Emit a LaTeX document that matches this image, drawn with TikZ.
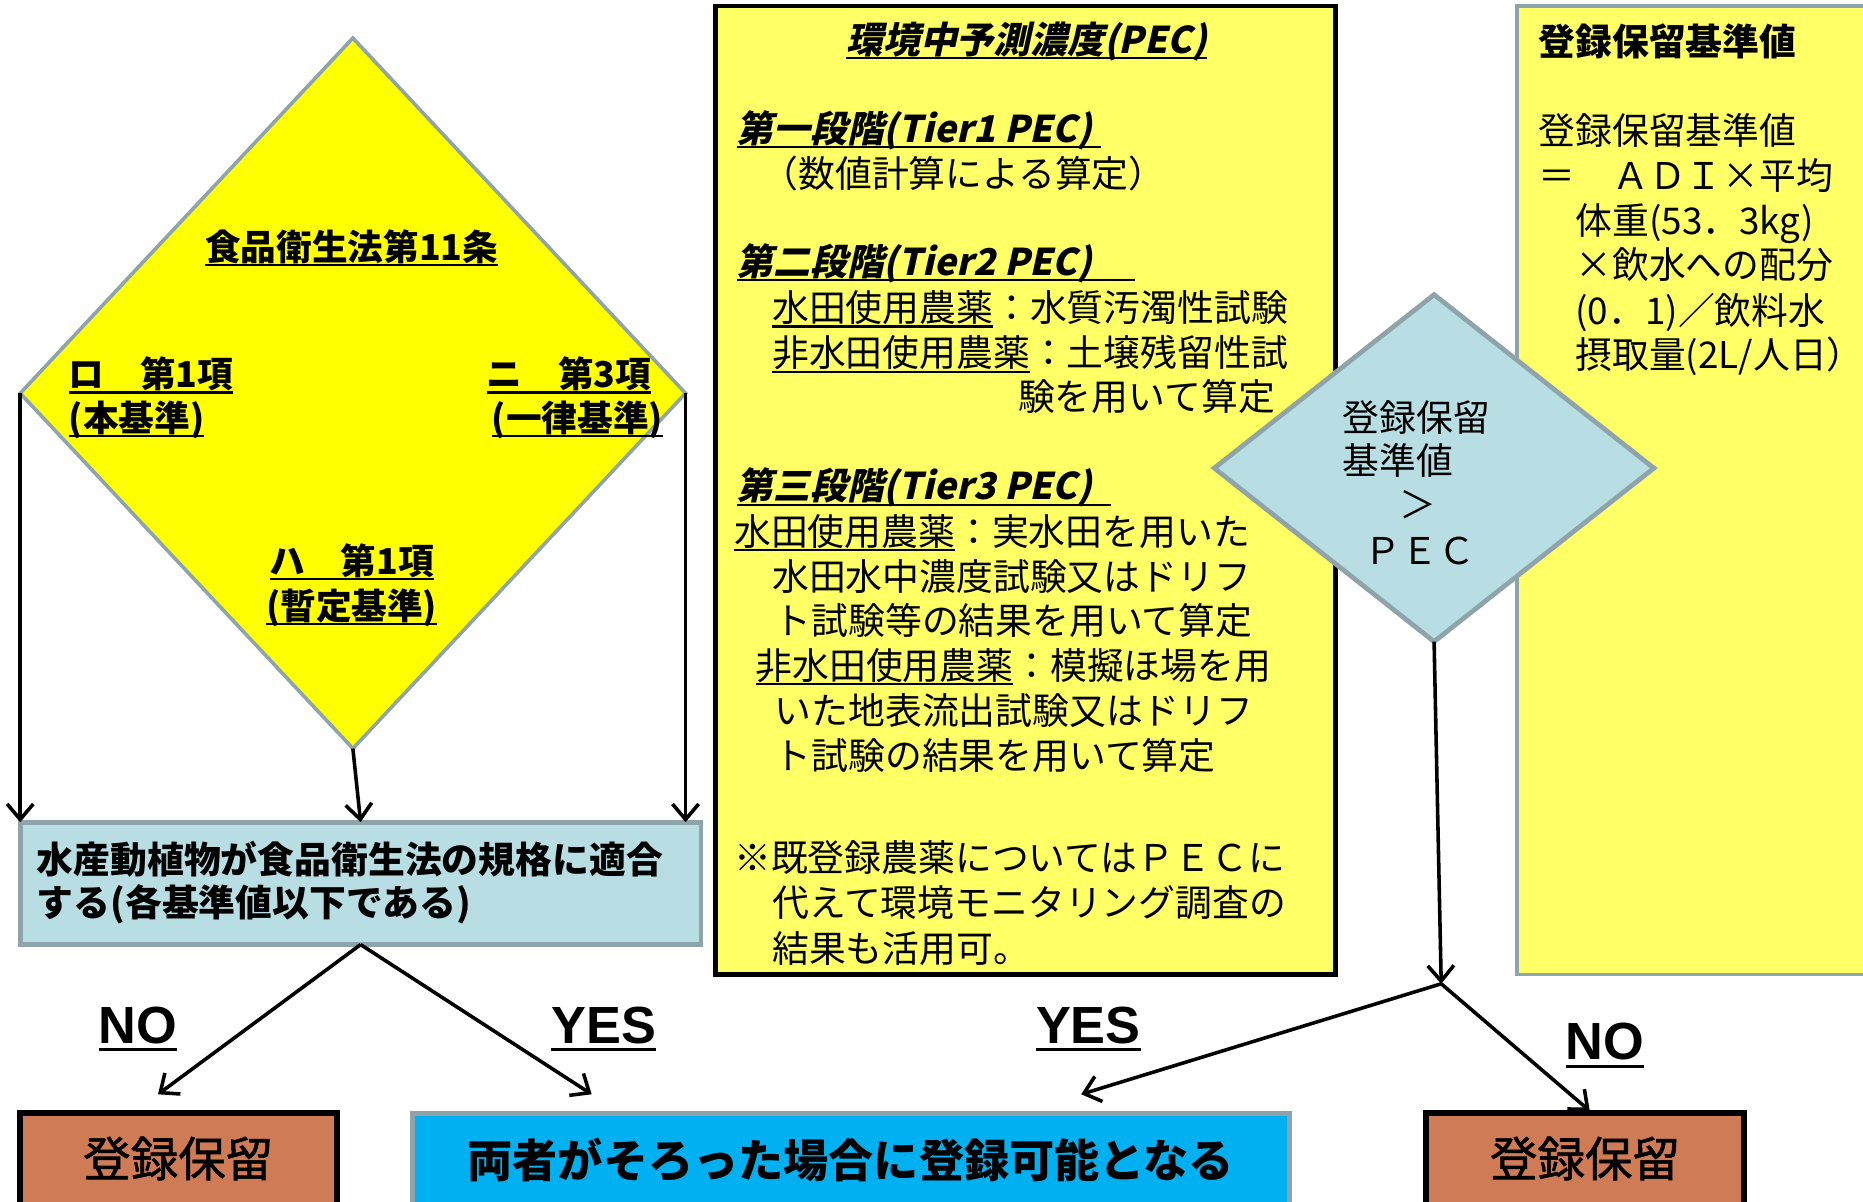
\documentclass[tikz,border=0pt]{standalone}
\usepackage{fontspec}
\setmainfont{Noto Sans CJK JP}
\newfontfamily\jp{Noto Sans CJK JP}
\newfontfamily\jpm{Noto Sans CJK JP}[FakeBold=1.2]
\newfontfamily\jpsl{Noto Sans CJK JP}[FakeSlant=0.22]
\newfontfamily\lat{Liberation Sans}
\usetikzlibrary{shapes.geometric,arrows.meta}
\definecolor{ydia}{HTML}{FFFF00}
\definecolor{ybox}{HTML}{FFFF66}
\definecolor{lblue}{HTML}{B8DEE3}
\definecolor{gborder}{HTML}{8EA4AA}
\definecolor{brick}{HTML}{CF7B56}
\definecolor{cyanb}{HTML}{00B0F0}
\newcommand\myul[1]{\setbox0=\hbox{#1}\rlap{\rule[-0.16em]{\wd0}{0.06em}}\box0}
\begin{document}
\begin{tikzpicture}[x=0.5pt,y=-0.5pt,
  every node/.style={inner sep=0pt, outer sep=0pt},
  jb15/.style={font=\jp\bfseries\fontsize{15pt}{15pt}\selectfont, text height=13.2pt, text depth=1.8pt},
  jb/.style={font=\jp\bfseries\fontsize{15.5pt}{15.5pt}\selectfont, text height=13.64pt, text depth=1.86pt},
  jr/.style={font=\jp\fontsize{15.5pt}{15.5pt}\selectfont, text height=13.64pt, text depth=1.86pt},
  js/.style={font=\jpsl\bfseries\fontsize{15.5pt}{15.5pt}\selectfont, text height=13.64pt, text depth=1.86pt},
  bigr/.style={font=\jpm\fontsize{20pt}{20pt}\selectfont, text height=17.6pt, text depth=2.4pt},
  bigb/.style={font=\jp\bfseries\fontsize{19pt}{19pt}\selectfont, text height=16.72pt, text depth=2.28pt},
  yn/.style={font=\lat\bfseries\fontsize{22pt}{22pt}\selectfont},
  arr/.style={line width=1.5pt, -{Straight Barb[length=6.5pt,width=11pt]}},
  brickbox/.style={draw=black, line width=2.5pt, fill=brick, minimum height=46.5pt},
]
\useasboundingbox (0,0) rectangle (1568,1011);
\fill[white] (0,0) rectangle (1568,1011);

% big yellow diamond
\node[draw=gborder, line width=1.5pt, fill=ydia, diamond, minimum width=280pt, minimum height=299pt] (D1) at (297,331) {};
\node[jb15] (d1) at (296,208) {\myul{食品衛生法第11条}};
\node[jb15, anchor=west] (d2) at (58,315) {\myul{ロ　第1項}};
\node[jb15, anchor=west] (d3) at (58,352) {\myul{(本基準)}};
\node[jb15, anchor=east] (d4) at (548,315) {\myul{ニ　第3項}};
\node[jb15, anchor=east] (d5) at (558,352) {\myul{(一律基準)}};
\node[jb15] (d6) at (296,472) {\myul{ハ　第1項}};
\node[jb15] (d7) at (296,510) {\myul{(暫定基準)}};

% light blue result box
\node[draw=gborder, line width=2pt, fill=lblue, minimum width=286.5pt, minimum height=51.5pt] (B1) at (303.5,743.5) {};
\node[jb, anchor=west] (b1) at (31,723) {水産動植物が食品衛生法の規格に適合};
\node[jb, anchor=west] (b2) at (31,760) {する(各基準値以下である)};

% arrows from the diamond
\draw[arr] (D1.west) -- (D1.west |- B1.north);
\draw[arr] (D1.south) -- (B1.north);
\draw[arr] (D1.east) -- (D1.east |- B1.north);

% PEC box
\node[draw=black, line width=2pt, fill=ybox, minimum width=261pt, minimum height=407.5pt] (P) at (863,412.5) {};
\node[js] (p0) at (864,33) {\myul{環境中予測濃度(PEC)}};
\node[js, anchor=west] (p1) at (620,108) {\myul{第一段階(Tier1 PEC)\hspace{4pt}}};
\node[jr, anchor=west] (p2) at (641,146) {（数値計算による算定）};
\node[js, anchor=west] (p3) at (620,220) {\myul{第二段階(Tier2 PEC)\hspace{18pt}}};
\node[jr, anchor=west] (p4) at (650,259) {\myul{水田使用農薬}：水質汚濁性試験};
\node[jr, anchor=west] (p5) at (650,297) {\myul{非水田使用農薬}：土壌残留性試};
\node[jr, anchor=east] (p6) at (1073,334) {験を用いて算定};
\node[js, anchor=west] (p7) at (620,409) {\myul{第三段階(Tier3 PEC)\hspace{8pt}}};
\node[jr, anchor=west] (p8) at (618,447) {\myul{水田使用農薬}：実水田を用いた};
\node[jr, anchor=west] (p9) at (650,485) {水田水中濃度試験又はドリフ};
\node[jr, anchor=west] (p10) at (652,522) {ト試験等の結果を用いて算定};
\node[jr, anchor=west] (p11) at (636,560) {\myul{非水田使用農薬}：模擬ほ場を用};
\node[jr, anchor=west] (p12) at (652,598) {いた地表流出試験又はドリフ};
\node[jr, anchor=west] (p13) at (652,636) {ト試験の結果を用いて算定};
\node[jr, anchor=west] (p14) at (618,722) {※既登録農薬についてはＰＥＣに};
\node[jr, anchor=west] (p15) at (650,760) {代えて環境モニタリング調査の};
\node[jr, anchor=west] (p16) at (650,798) {結果も活用可。};

% right yellow box
\node[draw=gborder, line width=1.5pt, fill=ybox, minimum width=151.5pt, minimum height=407.5pt] (R) at (1428.5,412.5) {};
\node[jb, anchor=west] (r0) at (1295,35) {登録保留基準値};
\node[jr, anchor=west] (r1) at (1295,110) {登録保留基準値};
\node[jr, anchor=west] (r2) at (1295,148) {＝　ＡＤＩ×平均};
\node[jr, anchor=west] (r3) at (1326,186) {体重(53．3kg)};
\node[jr, anchor=west] (r4) at (1326,223) {×飲水への配分};
\node[jr, anchor=west] (r5) at (1326,261) {(0．1)／飲料水};
\node[jr, anchor=west] (r6) at (1326,298) {摂取量(2L/人日）};

% blue diamond
\node[draw=gborder, line width=2pt, fill=lblue, diamond, minimum width=185pt, minimum height=146pt] (D2) at (1207,394) {};
\node[jr, anchor=west] (q1) at (1130,351) {登録保留};
\node[jr, anchor=west] (q2) at (1130,388) {基準値};
\node[jr] (q3) at (1193,425) {＞};
\node[jr] (q4) at (1195,463) {ＰＥＣ};

% bottom boxes
\node[brickbox, minimum width=133.5pt] (L) at (150.5,983.5) {};
\node[bigr] (l1) at (150,975) {登録保留};
\node[draw=gborder, line width=2pt, fill=cyanb, minimum width=369pt, minimum height=46.5pt] (M) at (716,983.5) {};
\node[bigb] (m1) at (716,977) {両者がそろった場合に登録可能となる};
\node[brickbox, minimum width=134pt] (N) at (1334,983.5) {};
\node[bigr] (n1t) at (1334,975) {登録保留};

% lower connectors
\coordinate (n1) at (133,921);
\coordinate (y1) at (498,921);
\draw[arr] (B1.south) -- (n1);
\draw[arr] (B1.south) -- (y1);
\coordinate (j) at (1213,828);
\coordinate (y2) at (910,921);
\coordinate (n2) at (1338,935);
\draw[arr] (D2.south) -- (j);
\draw[arr] (j) -- (y2);
\draw[arr] (j) -- (n2);

% labels
\node[yn] (lno1) at (116,866) {\myul{NO}};
\node[yn] (lyes1) at (508,866) {\myul{YES}};
\node[yn] (lyes2) at (916,866) {\myul{YES}};
\node[yn] (lno2) at (1351,880) {\myul{NO}};
\end{tikzpicture}
\end{document}
